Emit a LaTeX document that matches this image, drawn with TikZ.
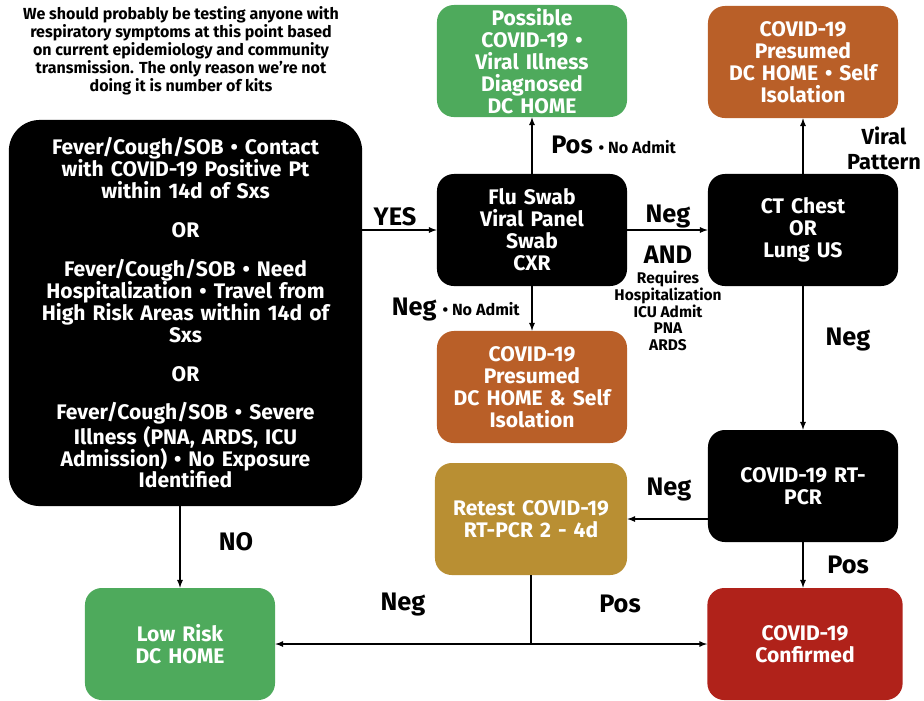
\documentclass[tikz,border=0pt]{standalone}
\usepackage{fontspec}
\setmainfont{Fira Sans}
\usepackage{tikz}
\usepackage{xcolor}

\definecolor{boxgreen}{RGB}{78,170,92}
\definecolor{boxorange}{RGB}{185,95,40}
\definecolor{boxgold}{RGB}{185,143,51}
\definecolor{boxred}{RGB}{176,34,26}

\tikzset{
    stepbox/.style={rounded corners=12pt, minimum width=4.75cm, minimum height=2.8cm, text width=4.7cm,
        align=center, text=white, font=\bfseries\fontsize{15}{15.6}\selectfont, inner sep=0pt},
    flowarrow/.style={line width=0.9pt, black, -latex},
    flowline/.style={line width=0.9pt, black},
    biglabel/.style={font=\bfseries\fontsize{18}{20}\selectfont, inner sep=0pt},
    smalllabel/.style={font=\bfseries\fontsize{11}{11.8}\selectfont, inner sep=0pt, align=center}
}

\begin{document}
\begin{tikzpicture}[x=0.025cm, y=-0.025cm]

        \useasboundingbox (0, 0) rectangle (924, 700);

        % note at the top
        \node[font=\bfseries\fontsize{11.4}{11.4}\selectfont, align=center, inner sep=0pt] (note) at (181, 51)
            {We should probably be testing anyone with\\respiratory symptoms at this point based\\on current epidemiology and community\\transmission. The only reason we're not\\doing it is number of kits};

        % criteria box
        \node[stepbox, fill=black, rounded corners=22pt, minimum width=8.83cm, minimum height=9.65cm, text width=8.6cm] (crit) at (185.5, 313)
            {Fever/Cough/SOB • Contact\\with COVID-19 Positive Pt\\within 14d of Sxs\\[12pt]OR\\[12pt]Fever/Cough/SOB • Need\\Hospitalization • Travel from\\High Risk Areas within 14d of\\Sxs\\[12pt]OR\\[12pt]Fever/Cough/SOB • Severe\\Illness (PNA, ARDS, ICU\\Admission) • No Exposure\\Identified};

        % boxes
        \node[stepbox, fill=black] (flu) at (532, 230) {Flu Swab\\Viral Panel\\Swab\\CXR};
        \node[stepbox, fill=black] (ct) at (803, 230) {CT Chest\\OR\\Lung US};
        \node[stepbox, fill=boxgreen] (possible) at (532, 61) {Possible\\COVID-19 •\\Viral Illness\\Diagnosed\\DC HOME};
        \node[stepbox, fill=boxorange] (presumedtop) at (803, 62) {COVID-19\\Presumed\\DC HOME • Self\\Isolation};
        \node[stepbox, fill=boxorange] (presumedmid) at (532, 387) {COVID-19\\Presumed\\DC HOME \& Self\\Isolation};
        \node[stepbox, fill=boxgold, minimum width=4.8cm] (retest) at (531, 519) {Retest COVID-19\\RT-PCR 2 - 4d};
        \node[stepbox, fill=black] (rtpcr) at (803, 486) {COVID-19 RT-\\PCR};
        \node[stepbox, fill=boxred, minimum width=4.88cm] (confirmed) at (805, 644) {COVID-19\\Confirmed};
        \node[stepbox, fill=boxgreen] (lowrisk) at (180, 644) {Low Risk\\DC HOME};

        % arrows
        \draw[flowarrow] (crit.east |- flu.west) -- (flu.west);
        \draw[flowarrow] (flu.north) -- (possible.south);
        \draw[flowarrow] (flu.south) -- (presumedmid.north);
        \draw[flowarrow] (flu.east) -- (ct.west);
        \draw[flowarrow] (ct.north) -- (presumedtop.south);
        \draw[flowarrow] (ct.south) -- (rtpcr.north);
        \draw[flowarrow] (rtpcr.west |- retest.east) -- (retest.east);
        \draw[flowarrow] (rtpcr.south) -- (rtpcr.south |- confirmed.north);
        \draw[flowarrow] (lowrisk.north |- crit.south) -- (lowrisk.north);
        \coordinate (split) at (retest.south |- lowrisk.east);
        \draw[flowline] (retest.south) -- (split);
        \draw[flowarrow] (split) -- (lowrisk.east);
        \draw[flowarrow] (split) -- (confirmed.west);

        % labels
        \node[biglabel] (yes) at (395, 217) {YES};
        \node[biglabel, anchor=west] (pos1) at (551, 145) {Pos \fontsize{11.5}{14}\selectfont • No Admit};
        \node[biglabel, anchor=east] (neg1) at (520, 310) {Neg \fontsize{11.5}{14}\selectfont • No Admit};
        \node[biglabel] (neg2) at (668, 217) {Neg};
        \node[biglabel] (and) at (668, 255) {AND};
        \node[smalllabel] (requires) at (668, 311) {Requires\\Hospitalization\\ICU Admit\\PNA\\ARDS};
        \node[biglabel, align=center, font=\bfseries\fontsize{15.5}{17.7}\selectfont] (viral) at (884, 148) {Viral\\Pattern};
        \node[biglabel] (neg3) at (848, 340) {Neg};
        \node[biglabel] (neg4) at (669, 490) {Neg};
        \node[biglabel] (pos2) at (848, 565) {Pos};
        \node[biglabel] (no) at (236, 542) {NO};
        \node[biglabel] (neg5) at (403, 605) {Neg};
        \node[biglabel] (pos3) at (620, 604) {Pos};

\end{tikzpicture}
\end{document}
